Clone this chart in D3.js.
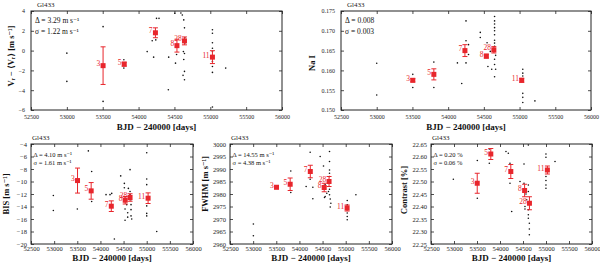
<!DOCTYPE html>
<html>
<head>
<meta charset="utf-8">
<script src="https://cdn.jsdelivr.net/npm/d3@7"></script>
<style>
body { margin: 0; background: #fff; }
svg text { font-family: "Liberation Serif", "DejaVu Serif", serif; }
</style>
</head>
<body>
<svg id="chart" width="600" height="267"></svg>
<script>
// seasons (BJD - 2400000) and number of spectra per season
var binDates = [53505, 53800, 54235, 54535, 54640, 55030];
var binCounts = ["3", "5", "7", "8", "28", "11"];

var xTicks = [52500, 53000, 53500, 54000, 54500, 55000, 55500, 56000];

// radial velocity
var rvTicks = [-6, -4, -2, 0, 2, 4];
var rvDates = [53000, 53000, 53505, 53505, 53795, 53795, 54120, 54210, 54190, 54240, 54250, 54285, 54420, 54415, 54505, 54515, 54530, 54590, 54610, 54630, 54640, 54620, 54640, 54625, 54640, 54630, 54650, 54645, 54640, 55030, 55030, 55030, 55030, 55030, 55030, 55030, 55030, 55030, 55215];
var rvValues = [-0.26, -3.11, 2.42, -5.13, -0.93, -1.77, -0.1, -0.66, 1.0, 1.08, 3.26, 3.26, -0.66, -3.95, 3.77, -1.27, -0.4, 3.8, 3.6, 3.1, 2.3, -2.5, -2.1, -0.1, -0.3, -0.9, 0.8, 1.3, -2.95, 2.1, 1.75, 0.8, 0.24, -0.1, -1.1, -1.6, -2.2, -5.7, -1.77];
var rvBins = [-1.52, -1.37, 1.80, 0.50, 0.98, -0.66];
var rvErrors = [1.90, 0.20, 0.50, 0.65, 0.40, 0.65];

// Na I index
var naTicks = [0.150, 0.155, 0.160, 0.165, 0.170, 0.175];
var naDates = [53000, 53000, 53505, 53505, 53800, 53800, 54130, 54190, 54250, 54250, 54285, 54285, 54250, 54450, 54450, 54545, 54557, 54590, 54610, 54650, 54650, 54650, 54650, 54650, 54650, 54650, 54650, 54650, 54665, 54650, 54650, 54665, 54650, 55045, 55045, 55045, 55045, 55045, 55045, 55215];
var naValues = [0.1618, 0.1538, 0.159, 0.1557, 0.1621, 0.1557, 0.1619, 0.1567, 0.1725, 0.1675, 0.1665, 0.164, 0.1619, 0.1696, 0.1683, 0.167, 0.161, 0.1648, 0.1603, 0.1736, 0.1725, 0.1717, 0.1708, 0.170, 0.169, 0.1676, 0.1669, 0.1661, 0.1638, 0.1628, 0.1615, 0.1603, 0.1584, 0.1603, 0.1593, 0.1586, 0.1542, 0.1532, 0.1519, 0.1523];
var naBins = [0.1575, 0.1590, 0.1650, 0.1636, 0.1652, 0.1575];
var naErrors = [0.0004, 0.0014, 0.0015, 0.0005, 0.0008, 0.0005];

// bisector span
var bisTicks = [-20, -18, -16, -14, -12, -10, -8, -6, -4];
var bisDates = [52983, 52983, 53501, 53739, 53811, 53811, 54121, 54207, 54244, 54301, 54438, 54517, 54517, 54568, 54532, 54532, 54589, 54640, 54640, 54640, 54661, 54661, 54661, 54661, 54676, 54604, 54589, 55000, 55000, 55000, 55000, 55000, 55000, 55216];
var bisValues = [-12.25, -14.64, -14.4, -5.1, -8.4, -13.2, -12.1, -12.1, -11.9, -19.2, -9.1, -10.3, -11.0, -13.7, -14.4, -16.2, -15.7, -8.1, -11.6, -12.1, -12.9, -13.7, -14.5, -15.5, -16.0, -11.1, -15.0, -5.4, -9.6, -10.5, -13.9, -15.1, -15.5, -18.0];
var bisBins = [-9.85, -11.5, -13.95, -13.0, -12.56, -12.67];
var bisErrors = [2.0, 1.33, 0.85, 0.6, 0.6, 0.85];

// FWHM
var fwhmTicks = [2960, 2965, 2970, 2975, 2980, 2985, 2990, 2995, 3000];
var fwhmDates = [53005, 53005, 53525, 53813, 53813, 54145, 54232, 54232, 54290, 54290, 54448, 54520, 54556, 54592, 54556, 54650, 54650, 54650, 54650, 54650, 54650, 54650, 54665, 54665, 54679, 54628, 54542, 55033, 55033, 55033, 55033, 55033, 55220];
var fwhmValues = [2968.0, 2963.3, 2982.9, 2989.2, 2980.6, 2983.0, 2996.7, 2985.9, 2982.7, 2978.1, 2995.0, 2991.2, 2983.7, 2980.3, 2979.0, 2997.0, 2993.0, 2989.6, 2988.3, 2987.0, 2981.9, 2979.7, 2978.0, 2974.8, 2976.3, 2981.0, 2978.6, 2977.4, 2975.7, 2972.4, 2971.0, 2969.7, 2979.7];
var fwhmBins = [2982.7, 2983.9, 2989.0, 2982.6, 2985.0, 2974.4];
var fwhmErrors = [0.6, 2.5, 2.5, 1.7, 2.0, 1.2];

// contrast
var conTicks = [22.25, 22.30, 22.35, 22.40, 22.45, 22.50, 22.55, 22.60, 22.65];
var conDates = [52986, 53507, 53507, 53768, 53768, 54130, 54181, 54217, 54217, 54254, 54435, 54522, 54522, 54543, 54543, 54616, 54616, 54616, 54616, 54616, 54616, 54638, 54638, 54638, 54580, 54565, 54999, 54999, 54999, 54999, 54999, 54999, 55196];
var conValues = [22.509, 22.433, 22.584, 22.63, 22.573, 22.62, 22.613, 22.573, 22.493, 22.38, 22.50, 22.57, 22.493, 22.40, 22.39, 22.646, 22.486, 22.46, 22.387, 22.367, 22.353, 22.333, 22.31, 22.287, 22.427, 22.45, 22.61, 22.597, 22.52, 22.504, 22.486, 22.473, 22.58];
var conBins = [22.493, 22.61, 22.54, 22.464, 22.413, 22.546];
var conErrors = [0.04, 0.022, 0.028, 0.025, 0.026, 0.016];

var svg = d3.select("#chart");
var red = "#e8262c";

var panels = [
	{left: 31, right: 282, top: 11, bottom: 110, domain: [-6, 4], ticks: rvTicks, fmt: "d",
		dates: rvDates, values: rvValues, bins: rvBins, errors: rvErrors,
		yTitle: "V\u1D63 \u2212 \u27E8V\u1D63\u27E9 [m s\u207B\u00B9]", yTitleX: 11, yTitleY: 56,
		notes: ["\u0394 = 3.29 m s\u207B\u00B9", "\u03C3 = 1.22 m s\u207B\u00B9"], big: true},
	{left: 341, right: 591, top: 11, bottom: 110, domain: [0.150, 0.175], ticks: naTicks, fmt: ".3f",
		dates: naDates, values: naValues, bins: naBins, errors: naErrors,
		yTitle: "Na I", yTitleX: 312, yTitleY: 63,
		notes: ["\u0394 = 0.008", "\u03C3 = 0.003"], big: true},
	{left: 31, right: 193, top: 144, bottom: 244, domain: [-20, -4], ticks: bisTicks, fmt: "d",
		dates: bisDates, values: bisValues, bins: bisBins, errors: bisErrors,
		yTitle: "BIS [m s\u207B\u00B9]", yTitleX: 6, yTitleY: 194,
		notes: ["\u0394 = 4.10 m s\u207B\u00B9", "\u03C3 = 1.61 m s\u207B\u00B9"], big: false},
	{left: 230, right: 392, top: 144, bottom: 244, domain: [2960, 3000], ticks: fwhmTicks, fmt: "d",
		dates: fwhmDates, values: fwhmValues, bins: fwhmBins, errors: fwhmErrors,
		yTitle: "FWHM [m s\u207B\u00B9]", yTitleX: 205, yTitleY: 184,
		notes: ["\u0394 = 14.55 m s\u207B\u00B9", "\u03C3 = 4.38 m s\u207B\u00B9"], big: false},
	{left: 431, right: 592, top: 144, bottom: 244, domain: [22.25, 22.65], ticks: conTicks, fmt: ".2f",
		dates: conDates, values: conValues, bins: conBins, errors: conErrors,
		yTitle: "Contrast [%]", yTitleX: 404, yTitleY: 190,
		notes: ["\u0394 = 0.20 %", "\u03C3 = 0.06 %"], big: false}
];

panels.forEach(function(p){
	var x = d3.scaleLinear().domain([52500, 56000]).range([p.left, p.right]);
	var y = d3.scaleLinear().domain(p.domain).range([p.bottom, p.top]);
	var g = svg.append("g");
	var tickFont = p.big ? 6 : 6.5;

	// axes, ticks pointing inwards
	g.append("g").attr("transform", "translate(0," + p.bottom + ")")
		.call(d3.axisBottom(x).tickValues(xTicks).tickSize(-3).tickPadding(p.big ? 5 : 2.5).tickFormat(d3.format("d")));
	g.append("g").attr("transform", "translate(0," + p.top + ")")
		.call(d3.axisTop(x).tickValues(xTicks).tickSize(-3).tickFormat(""));
	g.append("g").attr("transform", "translate(" + p.left + ",0)")
		.call(d3.axisLeft(y).tickValues(p.ticks).tickSize(-3).tickPadding(p.big ? 6 : 4).tickFormat(d3.format(p.fmt)));
	g.append("g").attr("transform", "translate(" + p.right + ",0)")
		.call(d3.axisRight(y).tickValues(p.ticks).tickSize(-3).tickFormat(""));
	g.selectAll(".domain").remove();
	g.selectAll(".tick line").attr("stroke", "#222").attr("stroke-width", 0.8);
	g.selectAll(".tick text").attr("font-size", tickFont).attr("fill", "#222")
		.style("font-family", "'Liberation Serif', serif");

	// frame
	g.append("rect")
		.attr("x", p.left).attr("y", p.top)
		.attr("width", p.right - p.left).attr("height", p.bottom - p.top)
		.attr("fill", "none").attr("stroke", "#222").attr("stroke-width", 1);

	// single measurements
	g.selectAll("circle.dot")
		.data(p.values)
		.enter()
		.append("circle")
		.attr("class", "dot")
		.attr("cx", function(d, i){ return x(p.dates[i]); })
		.attr("cy", function(d){ return y(d); })
		.attr("r", 0.8)
		.attr("fill", "#111");

	// seasonal means with error bars
	var bins = g.selectAll("g.bin")
		.data(p.bins)
		.enter()
		.append("g")
		.attr("class", "bin");
	bins.append("line")
		.attr("x1", function(d, i){ return x(binDates[i]); })
		.attr("x2", function(d, i){ return x(binDates[i]); })
		.attr("y1", function(d, i){ return y(d - p.errors[i]); })
		.attr("y2", function(d, i){ return y(d + p.errors[i]); })
		.attr("stroke", red).attr("stroke-width", 1);
	[-1, 1].forEach(function(s){
		bins.append("line")
			.attr("x1", function(d, i){ return x(binDates[i]) - 2.5; })
			.attr("x2", function(d, i){ return x(binDates[i]) + 2.5; })
			.attr("y1", function(d, i){ return y(d + s*p.errors[i]); })
			.attr("y2", function(d, i){ return y(d + s*p.errors[i]); })
			.attr("stroke", red).attr("stroke-width", 1);
	});
	bins.append("rect")
		.attr("x", function(d, i){ return x(binDates[i]) - 2.5; })
		.attr("y", function(d){ return y(d) - 2.5; })
		.attr("width", 5).attr("height", 5)
		.attr("fill", red);
	bins.append("text")
		.text(function(d, i){ return binCounts[i]; })
		.attr("x", function(d, i){ return x(binDates[i]) - 2.8; })
		.attr("y", function(d){ return y(d) + 0.5; })
		.attr("text-anchor", "end")
		.attr("font-size", 7.5)
		.attr("fill", red);

	// star name
	g.append("text")
		.text("Gl433")
		.attr("x", p.left + (p.big ? 6 : 1))
		.attr("y", p.top - 4)
		.attr("font-size", 7)
		.attr("fill", "#222");

	// delta and sigma
	g.selectAll("text.note")
		.data(p.notes)
		.enter()
		.append("text")
		.attr("class", "note")
		.text(function(d){ return d; })
		.attr("x", p.left + (p.big ? 4 : 2.5))
		.attr("y", function(d, i){ return p.big ? p.top + 11.5 + 11*i : p.top + 13 + 8*i; })
		.attr("font-size", p.big ? 7.5 : 6.5)
		.attr("fill", "#111");

	// axis titles
	g.append("text")
		.text("BJD \u2212 240000 [days]")
		.attr("x", (p.left + p.right)/2)
		.attr("y", p.big ? 130 : 261)
		.attr("text-anchor", "middle")
		.attr("font-size", 9)
		.attr("font-weight", "bold")
		.attr("fill", "#111");
	g.append("text")
		.text(p.yTitle)
		.attr("transform", "translate(" + p.yTitleX + "," + p.yTitleY + ") rotate(-90)")
		.attr("text-anchor", "middle")
		.attr("dy", "0.35em")
		.attr("font-size", 8.5)
		.attr("font-weight", "bold")
		.attr("fill", "#111");
});
</script>
</body>
</html>
